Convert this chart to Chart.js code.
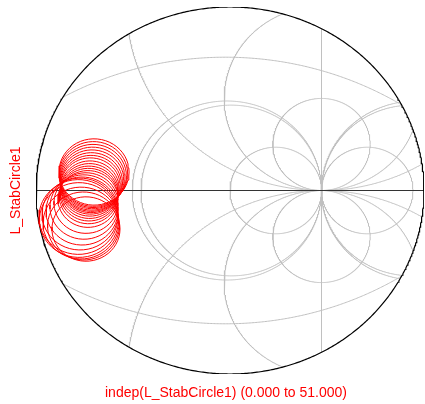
<!DOCTYPE html>
<html>
<head>
<meta charset="utf-8">
<script src="https://cdn.jsdelivr.net/npm/chart.js@4/dist/chart.umd.min.js"></script>
<style>
  html, body { margin: 0; padding: 0; background: #fff; }
  #wrap { width: 425px; height: 404px; }
</style>
</head>
<body>
<div id="wrap"><canvas id="smith"></canvas></div>
<script>
// reflection coefficient magnitude at the rim of the chart
const rimRadius = 2.12;

// constant-resistance circles of the grid (r = -1 is the straight line)
const resistanceValues = [0.014, -0.033, 1, -1, -1.967, -2.014, -3];
// constant-reactance circles of the grid
const reactanceValues = [0.47, 0.94, 1.88, -0.47, -0.94, -1.88];
// the two wide arcs over the top and bottom half
const wideArcRe = [-0.05, -0.05];
const wideArcIm = [-2.1, 2.1];
const wideArcRadius = [3.64, 3.64];

// L_StabCircle1, one circle per frequency point
const stabCentreRe = [-1.486, -1.492, -1.497, -1.503, -1.508, -1.514, -1.519, -1.525, -1.530, -1.536, -1.541,
                      -1.546, -1.552, -1.574, -1.596, -1.617, -1.639, -1.656, -1.650, -1.628, -1.601, -1.574];
const stabCentreIm = [0.214, 0.191, 0.168, 0.145, 0.121, 0.098, 0.075, 0.052, 0.023, -0.006, -0.035,
                      -0.064, -0.098, -0.145, -0.191, -0.237, -0.272, -0.306, -0.341, -0.376, -0.410, -0.445];
const stabRadius = [0.383, 0.374, 0.365, 0.356, 0.348, 0.339, 0.331, 0.325, 0.319, 0.317, 0.317,
                    0.320, 0.328, 0.350, 0.372, 0.393, 0.415, 0.432, 0.432, 0.415, 0.393, 0.372];
const indepSteps = 51; // indep(L_StabCircle1) runs 0 .. 51

const xTitle = "indep(L_StabCircle1) (0.000 to 51.000)";
const yTitle = "L_StabCircle1";

const gridColor = "#c0c0c0";
const traceColor = "#ff0000";

function circlePoints(cx, cy, r, n) {
  const pts = [];
  for (let k = 0; k <= n; k++) {
    const a = (2 * Math.PI * k) / n;
    pts.push({ x: cx + r * Math.cos(a), y: cy + r * Math.sin(a) });
  }
  return pts;
}

// keep only the runs of a path that lie inside the rim
function clipToRim(pts) {
  const runs = [];
  let run = [];
  pts.forEach((p) => {
    if (Math.hypot(p.x, p.y) <= rimRadius) {
      run.push(p);
    } else {
      if (run.length > 1) runs.push(run);
      run = [];
    }
  });
  if (run.length > 1) runs.push(run);
  return runs;
}

const datasets = [];

function addPath(pts, color, width, order) {
  clipToRim(pts).forEach((run) => {
    datasets.push({
      data: run,
      showLine: true,
      borderColor: color,
      borderWidth: width,
      pointRadius: 0,
      fill: false,
      tension: 0,
      order: order,
    });
  });
}

// stability circles on top
for (let i = 0; i < stabRadius.length; i++) {
  addPath(circlePoints(stabCentreRe[i], stabCentreIm[i], stabRadius[i], indepSteps), traceColor, 1, 0);
}

// rim and real axis
addPath(circlePoints(0, 0, rimRadius - 1e-9, 720), "#000000", 1.2, 1);
addPath([{ x: -rimRadius, y: 0 }, { x: rimRadius, y: 0 }], "#333333", 1, 1);

// resistance circles
resistanceValues.forEach((r) => {
  if (r === -1) {
    const line = [];
    for (let k = -200; k <= 200; k++) line.push({ x: 1, y: (k / 200) * rimRadius });
    addPath(line, gridColor, 1, 2);
  } else {
    addPath(circlePoints(r / (1 + r), 0, Math.abs(1 / (1 + r)), 1440), gridColor, 1, 2);
  }
});

// reactance circles
reactanceValues.forEach((x) => {
  addPath(circlePoints(1, 1 / x, Math.abs(1 / x), 1440), gridColor, 1, 2);
});

for (let i = 0; i < wideArcRadius.length; i++) {
  addPath(circlePoints(wideArcRe[i], wideArcIm[i], wideArcRadius[i], 1440), gridColor, 1, 2);
}

const axisLabels = {
  id: "axisLabels",
  afterDraw(chart) {
    const { ctx, chartArea } = chart;
    ctx.save();
    ctx.fillStyle = traceColor;
    ctx.font = '14px "Liberation Sans", Arial, sans-serif';
    ctx.textAlign = "center";
    ctx.textBaseline = "middle";
    ctx.fillText(xTitle, (chartArea.left + chartArea.right) / 2 - 4, chartArea.bottom + 19);
    ctx.translate(16, (chartArea.top + chartArea.bottom) / 2);
    ctx.rotate(-Math.PI / 2);
    ctx.fillText(yTitle, 0, 0);
    ctx.restore();
  },
};

new Chart(document.getElementById("smith"), {
  type: "scatter",
  data: { datasets: datasets },
  options: {
    responsive: true,
    maintainAspectRatio: false,
    animation: false,
    events: [],
    layout: { padding: { left: 36, right: 1, top: 7, bottom: 30 } },
    scales: {
      x: { type: "linear", min: -rimRadius, max: rimRadius, display: false },
      y: { type: "linear", min: -rimRadius, max: rimRadius, display: false },
    },
    plugins: {
      legend: { display: false },
      tooltip: { enabled: false },
    },
  },
  plugins: [axisLabels],
});
</script>
</body>
</html>
